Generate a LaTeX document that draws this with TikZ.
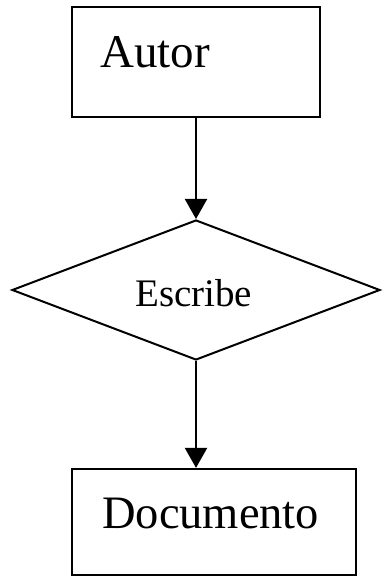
\documentclass[tikz,border=0pt]{standalone}
\usepackage{fontspec}
\setmainfont{Liberation Serif}
\usetikzlibrary{shapes.geometric,arrows.meta}
\begin{document}
\begin{tikzpicture}[x=1pt,y=1pt,
  boxstyle/.style={draw,line width=2.2pt,inner sep=0pt},
  arr/.style={line width=2.2pt,-{Triangle[width=22pt,length=20pt]}}]
\useasboundingbox (0,0) rectangle (383,577);
\node[boxstyle,minimum width=248pt,minimum height=110pt] (autor) at (196,515) {};
\node[anchor=base west,inner sep=0pt,font=\fontsize{47}{50}\selectfont] (autortxt) at (100,509) {Autor};
\node[draw,line width=2pt,shape=diamond,aspect=2.63,inner sep=0pt,minimum width=368pt,minimum height=140pt] (dia) at (196,287) {};
\node[anchor=base west,inner sep=0pt,font=\fontsize{39}{42}\selectfont] (diatxt) at (135,270) {Escribe};
\node[boxstyle,minimum width=284pt,minimum height=106pt] (doc) at (214,55) {};
\node[anchor=base west,inner sep=0pt,font=\fontsize{46.5}{50}\selectfont] (doctxt) at (102,48) {Documento};
\draw[arr] (autor.south -| dia.north) -- (dia.north);
\draw[arr] (dia.south) -- (dia.south |- doc.north);
\end{tikzpicture}
\end{document}
